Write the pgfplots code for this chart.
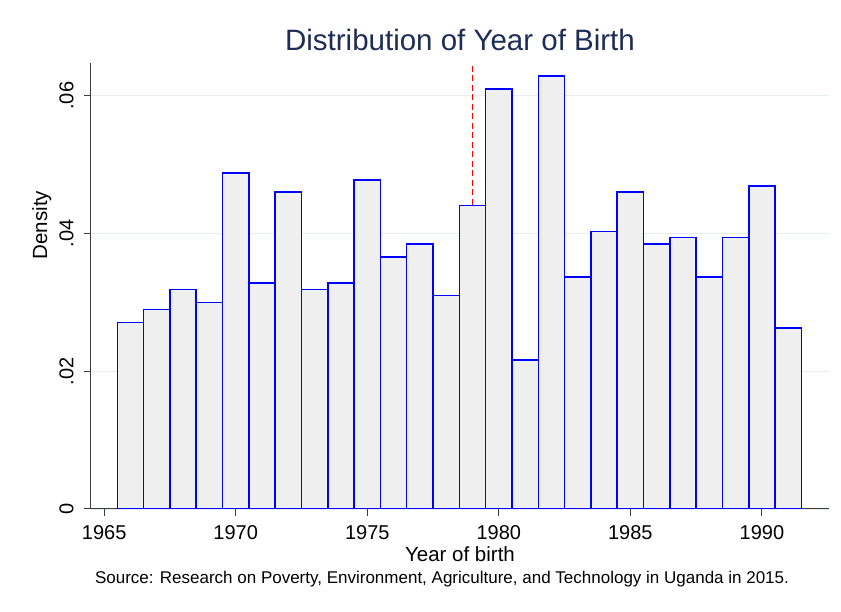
\documentclass[border=0pt]{standalone}
\usepackage{fontspec}
\setmainfont{Liberation Sans}
\usepackage{pgfplots}
\pgfplotsset{compat=1.18}
\definecolor{barfill}{RGB}{239,239,239}
\definecolor{barline}{RGB}{0,0,255}
\definecolor{gridc}{RGB}{230,237,240}
\definecolor{titlec}{RGB}{30,45,85}
\definecolor{axisc}{RGB}{60,60,60}
\begin{document}
\begin{tikzpicture}
\useasboundingbox (0,0) rectangle (841pt,612pt);
\begin{axis}[
    at={(91pt,103pt)}, anchor=south west,
    scale only axis, width=738pt, height=446.3pt,
    xmin=1964.5, xmax=1992.55, ymin=0, ymax=0.0648,
    axis lines=left, axis line style={-, axisc, line width=1pt},
    xtick={1965,1970,1975,1980,1985,1990},
    xticklabels={1965,1970,1975,1980,1985,1990},
    ytick={0,0.02,0.04,0.06}, yticklabels={0,.02,.04,.06},
    scaled y ticks=false,
    tick align=outside, major tick length=7pt,
    tick style={axisc, line width=1pt},
    ymajorgrids, grid style={gridc, line width=1.2pt},
    ticklabel style={font=\fontsize{20}{24}\selectfont},
    xticklabel style={yshift=-6pt},
    yticklabel style={rotate=90, anchor=south, yshift=7pt},
    xlabel={Year of birth}, ylabel={Density},
    label style={font=\fontsize{20.5}{24}\selectfont},
    xlabel style={at={(axis description cs:0.5,0)}, anchor=center, yshift=-45pt},
    ylabel style={at={(axis description cs:-0.0665,0.636)}, anchor=center},
    title={Distribution of Year of Birth},
    title style={at={(axis description cs:0.5,1)}, anchor=center, yshift=17pt,
        font=\fontsize{29.5}{34}\selectfont, text=titlec},
]
\addplot[red, line width=1.2pt, dash pattern=on 6pt off 3.5pt, forget plot]
    coordinates {(1979,0) (1979,0.0648)};
\addplot[ybar, bar width=1, bar shift=0, fill=barfill, draw=barline, line width=1.5pt] coordinates {
    (1966,0.0271) (1967,0.0290) (1968,0.0319) (1969,0.0300)
    (1970,0.0488) (1971,0.0328) (1972,0.0460) (1973,0.0319)
    (1974,0.0328) (1975,0.0478) (1976,0.0366) (1977,0.0385)
    (1978,0.0310) (1979,0.0441) (1980,0.0610) (1981,0.0216)
    (1982,0.0629) (1983,0.0337) (1984,0.0403) (1985,0.0460)
    (1986,0.0385) (1987,0.0394) (1988,0.0337) (1989,0.0394)
    (1990,0.0469) (1991,0.0263)
};
\end{axis}
\node[font=\fontsize{17}{20}\selectfont] at (442pt,33pt)
    {Source: Research on Poverty, Environment, Agriculture, and Technology in Uganda in 2015.};
\end{tikzpicture}
\end{document}
